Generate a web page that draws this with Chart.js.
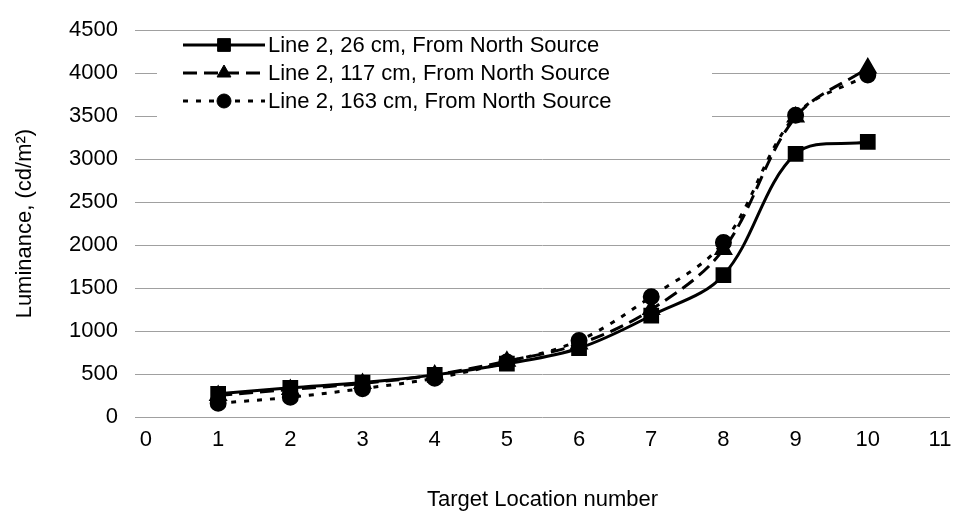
<!DOCTYPE html>
<html>
<head>
<meta charset="utf-8">
<script src="https://cdn.jsdelivr.net/npm/chart.js@4"></script>
<style>
  body { margin: 0; background: #fff; }
  #wrap { width: 962px; height: 518px; }
</style>
</head>
<body>
<div id="wrap"><canvas id="lumChart"></canvas></div>
<script>
// data
var locations = [1, 2, 3, 4, 5, 6, 7, 8, 9, 10];
var line26cm = [270, 340, 400, 490, 620, 800, 1180, 1650, 3060, 3200];
var line117cm = [250, 320, 390, 490, 650, 850, 1250, 1950, 3490, 4060];
var line163cm = [160, 230, 330, 450, 640, 890, 1400, 2030, 3510, 3980];
var seriesLabels = [
    'Line 2, 26 cm, From North Source',
    'Line 2, 117 cm, From North Source',
    'Line 2, 163 cm, From North Source'
];
var xTicks = [0, 1, 2, 3, 4, 5, 6, 7, 8, 9, 10, 11];

var FONT = 'Arial, "Liberation Sans", sans-serif';

function toPoints(vals) {
    return locations.map(function (x, i) { return {x: x, y: vals[i]}; });
}

// legend drawn inside the plot, like the original
var insideLegend = {
    id: 'insideLegend',
    afterDraw: function (chart) {
        var ctx = chart.ctx;
        ctx.save();
        ctx.fillStyle = '#fff';
        ctx.fillRect(157, 31, 555, 86);
        var rowY = [45, 73, 101];
        chart.data.datasets.forEach(function (ds, i) {
            var y = rowY[i];
            ctx.strokeStyle = '#000';
            ctx.lineWidth = ds.borderWidth;
            ctx.setLineDash(ds.borderDash || []);
            ctx.beginPath();
            ctx.moveTo(183, y);
            ctx.lineTo(265, y);
            ctx.stroke();
            ctx.setLineDash([]);
            ctx.fillStyle = '#000';
            ctx.lineWidth = 1;
            Chart.helpers.drawPoint(ctx, {
                pointStyle: ds.pointStyle,
                radius: ds.pointRadius,
                borderWidth: 1
            }, 224, y);
            ctx.fillStyle = '#000';
            ctx.font = '22px ' + FONT;
            ctx.textBaseline = 'middle';
            ctx.fillText(ds.label, 268, y + 1);
        });
        ctx.restore();
    }
};

var ctx = document.getElementById('lumChart').getContext('2d');
new Chart(ctx, {
    type: 'line',
    data: {
        datasets: [{
            label: seriesLabels[0],
            data: toPoints(line26cm),
            borderColor: '#000',
            backgroundColor: '#000',
            borderWidth: 3,
            pointStyle: 'rect',
            pointRadius: 9,
            tension: 0.35
        }, {
            label: seriesLabels[1],
            data: toPoints(line117cm),
            borderColor: '#000',
            backgroundColor: '#000',
            borderWidth: 3,
            borderDash: [14, 7],
            pointStyle: 'triangle',
            pointRadius: 8,
            tension: 0.35
        }, {
            label: seriesLabels[2],
            data: toPoints(line163cm),
            borderColor: '#000',
            backgroundColor: '#000',
            borderWidth: 3,
            borderDash: [5, 8],
            pointStyle: 'circle',
            pointRadius: 7,
            tension: 0.35
        }]
    },
    options: {
        responsive: true,
        maintainAspectRatio: false,
        animation: false,
        layout: { padding: { top: 27, right: 12, left: 0, bottom: 0 } },
        plugins: {
            legend: { display: false },
            tooltip: { enabled: false }
        },
        scales: {
            x: {
                type: 'linear',
                min: -0.152,
                max: 11.139,
                afterBuildTicks: function (scale) {
                    scale.ticks = xTicks.map(function (v) { return {value: v}; });
                },
                afterFit: function (scale) { scale.height = 101; },
                grid: { display: false, drawTicks: false },
                border: { display: false },
                ticks: {
                    color: '#000',
                    padding: 10,
                    font: { size: 22, family: FONT },
                    maxRotation: 0,
                    autoSkip: false,
                    callback: function (v) { return String(v); }
                },
                title: {
                    display: true,
                    text: 'Target Location number',
                    color: '#000',
                    font: { size: 22, family: FONT },
                    padding: { top: 0, bottom: 5 }
                }
            },
            y: {
                min: 0,
                max: 4500,
                afterFit: function (scale) { scale.width = 135; },
                grid: {
                    color: '#a0a0a0',
                    lineWidth: 1,
                    drawTicks: false
                },
                border: { display: false },
                ticks: {
                    stepSize: 500,
                    color: '#000',
                    padding: 17,
                    font: { size: 22, family: FONT },
                    callback: function (v) { return String(v); }
                },
                title: {
                    display: true,
                    text: 'Luminance, (cd/m\u00B2)',
                    color: '#000',
                    font: { size: 22, family: FONT },
                    padding: { top: 12, bottom: 0 }
                }
            }
        }
    },
    plugins: [insideLegend]
});
</script>
</body>
</html>
